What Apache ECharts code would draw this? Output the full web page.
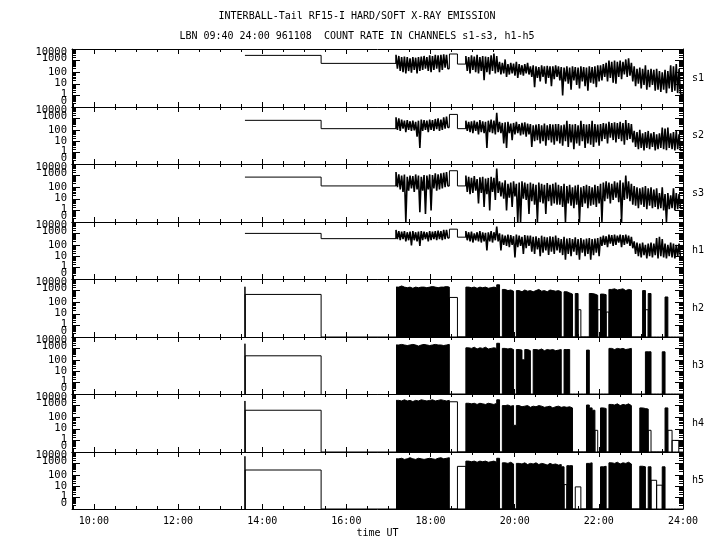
<!DOCTYPE html>
<html><head><meta charset="utf-8">
<script src="https://cdn.jsdelivr.net/npm/echarts@6/dist/echarts.min.js"></script>
<style>html,body{margin:0;padding:0;background:#fff}#c{width:720px;height:550px}</style>
</head><body><div id="c"></div>
<script>
// ===== DATA: values are log10(count rate); -1 means zero counts =====
const channels = ['s1','s2','s3','h1','h2','h3','h4','h5'];
const sparseT = [13.59, 15.40];          // sparse samples (start times)
const blockT = [18.45, 18.64, 18.84];    // two samples in the gap
const seg1Start = 17.18, seg2Start = 18.84, binH = 1/15; // 4-min bins
const xMajorTicks = [10,12,14,16,18,20,22,24];
const xTickLabels = ['10:00','12:00','14:00','16:00','18:00','20:00','22:00','24:00'];
const xMinorTicks = [9.5,10,10.5,11,11.5,12,12.5,13,13.5,14,14.5,15,15.5,16,16.5,17,17.5,18,18.5,19,19.5,20,20.5,21,21.5,22,22.5,23,23.5,24];
const yLabelText = ['10000','1000','100','10','1','0'];
const yLabelPos = [3.7,3.17,2.0,1.03,0.08,-0.5];
const yMajorTicks = [-1,0,1,2,3,4];

// ---- soft channels + h1 (line traces): sparse, block, hi/lo per bin ----
const s1Sparse = [3.45, 2.76];
const s1Block = [3.57, 2.70];
const s1Seg1Hi = [3.5,3.4,3.3,3.35,3.3,3.2,3.3,3.25,3.3,3.35,3.4,3.3,3.45,3.4,3.5,3.45,3.5,3.55,3.5];
const s1Seg1Lo = [2.3,2.1,2.0,1.9,2.1,1.95,2.2,1.9,2.1,2.2,2.3,2.1,2.0,2.2,2.3,2.0,2.2,2.4,2.3];
const s1Seg2Hi = [3.4,3.3,3.45,3.35,3.5,3.3,3.4,3.35,3.3,3.45,3.6,3.4,
  2.9,2.8,3.1,2.7,2.8,2.75,2.9,2.7,2.6,2.7,2.8,
  2.5,2.6,2.5,2.45,2.6,2.5,2.55,2.5,2.5,2.6,
  2.5,2.45,2.4,2.5,2.4,2.5,2.45,2.4,2.5,2.45,2.4,2.5,2.45,2.5,2.6,
  2.6,2.7,2.8,3.0,2.9,3.0,2.9,3.0,2.9,3.1,3.2,2.8,
  2.5,2.3,2.4,2.3,2.6,2.2,2.3,2.2,2.3,
  2.1,2.0,2.2,2.1,2.6,2.5,2.7,2.3];
const s1Seg2Lo = [2.1,1.9,2.2,2.0,1.9,2.1,1.3,2.0,1.8,2.1,1.9,2.0,
  1.8,1.9,1.6,1.8,1.9,1.7,1.5,1.8,1.7,1.9,1.8,
  1.6,0.7,1.5,1.2,1.6,1.0,1.5,0.8,1.4,1.6,
  1.3,0.0,1.2,1.0,0.5,1.3,0.9,0.6,1.2,0.8,0.4,1.1,1.0,0.7,1.2,
  1.3,1.6,1.2,1.5,1.1,1.0,1.6,1.4,1.8,1.6,1.7,1.2,
  0.8,1.0,0.6,0.9,0.5,0.7,0.9,0.4,0.5,
  0.3,0.5,0.2,0.6,0.3,0.4,0.2,0.1];

const s2Sparse = [2.83, 2.10];
const s2Block = [3.35, 2.10];
const s2Seg1Hi = [3.1,3.0,2.9,2.8,2.85,2.75,2.8,2.7,2.8,2.9,2.85,2.8,2.9,2.85,2.95,3.0,2.9,3.1,3.15];
const s2Seg1Lo = [2.0,1.9,2.1,1.8,2.0,1.9,1.95,1.4,0.4,1.9,2.0,1.8,2.0,1.9,2.05,1.9,2.0,2.1,2.2];
const s2Seg2Hi = [2.8,2.7,2.75,2.8,2.7,2.85,2.75,2.7,2.8,2.9,2.8,3.5,
  2.7,2.6,2.65,2.7,2.55,2.6,2.7,2.5,2.6,2.65,2.55,
  2.5,2.4,2.45,2.5,2.4,2.55,2.4,2.5,2.45,2.5,
  2.5,2.4,2.45,2.8,2.5,2.45,2.5,2.4,2.8,2.5,2.45,2.5,2.8,2.5,2.45,
  2.5,2.6,2.55,2.7,2.6,2.65,2.6,2.7,2.6,2.85,2.6,2.5,
  1.9,1.8,2.0,1.7,1.8,1.9,1.7,1.8,1.6,1.7,2.2,2.1,2.2,1.7,1.8,1.9,1.6];
const s2Seg2Lo = [1.9,1.8,1.7,1.9,1.6,1.8,1.7,0.4,1.8,1.7,1.6,1.8,
  1.7,0.8,0.4,1.7,1.1,1.6,1.7,1.5,1.6,1.4,1.6,
  0.5,1.0,1.1,0.8,1.0,0.6,1.1,0.9,0.7,1.0,
  0.8,0.6,1.0,0.5,0.9,0.3,0.8,0.6,1.0,0.4,0.8,0.7,0.5,0.9,0.6,
  1.0,1.2,0.8,1.3,1.1,0.9,1.2,1.0,0.7,1.1,1.2,0.9,
  0.5,0.3,0.4,0.2,0.4,0.3,0.5,0.2,0.3,0.4,0.3,0.2,0.4,0.3,0.2,0.3,0.2];

const s3Sparse = [2.87, 2.11];
const s3Block = [3.42, 2.11];
const s3Seg1Hi = [3.3,3.1,3.0,3.1,2.9,3.0,2.95,3.1,3.0,2.9,3.05,3.0,3.1,3.05,3.2,3.1,3.2,3.25,3.3];
const s3Seg1Lo = [2.0,1.8,1.6,-1,1.7,1.9,1.6,1.8,-0.15,1.7,-0.3,1.8,0.0,1.9,1.7,1.8,1.9,2.0,2.1];
const s3Seg2Hi = [3.0,2.9,2.8,2.95,2.7,2.85,2.9,2.75,2.8,2.9,2.8,3.6,
  2.5,2.4,2.6,2.3,2.4,2.5,2.3,2.4,2.5,2.4,2.3,
  2.4,2.3,2.2,2.4,2.3,2.2,2.35,2.2,2.3,2.4,
  2.2,2.1,2.3,2.1,2.2,2.0,2.15,2.2,2.0,2.1,2.2,2.1,2.0,2.2,2.1,
  2.3,2.4,2.5,2.4,2.3,2.5,2.4,2.6,2.4,3.0,2.5,2.3,
  2.1,2.0,1.9,2.0,2.1,1.9,2.0,1.8,1.9,
  1.5,2.0,1.4,1.5,1.3,1.9,1.5,1.4];
const s3Seg2Lo = [1.6,1.4,1.5,1.7,0.6,1.5,0.3,1.4,0.0,1.6,0.9,1.5,
  1.2,1.0,0.0,1.1,0.3,1.2,-1,-1,1.0,0.9,-0.3,
  0.8,0.5,-1,0.7,0.6,-0.3,0.8,0.4,0.6,0.5,
  0.5,0.3,-1,0.6,0.4,0.2,0.5,-1,0.3,0.6,0.2,0.4,0.5,0.3,0.6,
  -1,0.8,1.0,0.6,0.9,1.1,0.7,-1,0.9,1.0,0.8,0.5,
  0.4,0.2,0.5,0.3,0.1,0.4,0.2,0.3,0.1,
  0.2,0.0,-1,0.1,0.2,0.0,0.1,0.2];

const h1Sparse = [3.0, 2.54];
const h1Block = [3.37, 2.67];
const h1Seg1Hi = [3.3,3.2,3.15,3.2,3.1,3.15,3.2,3.1,3.15,3.2,3.15,3.1,3.2,3.15,3.2,3.25,3.2,3.3,3.3];
const h1Seg1Lo = [2.5,2.4,2.5,2.3,2.4,1.95,2.4,2.3,1.9,2.4,2.5,2.3,2.4,2.5,2.4,2.5,2.4,2.5,2.6];
const h1Seg2Hi = [3.2,3.1,3.15,3.0,3.1,3.2,3.1,3.05,3.1,3.2,3.1,3.6,
  3.0,2.9,2.8,2.9,2.85,2.75,2.9,2.8,2.7,2.85,2.8,
  2.8,2.7,2.75,2.6,2.8,2.7,2.65,2.75,2.7,2.8,
  2.6,2.5,2.7,2.55,2.6,2.5,2.65,2.5,2.6,2.45,2.55,2.6,2.5,2.55,2.6,
  2.7,2.8,2.75,2.9,2.85,2.9,2.8,2.9,2.85,2.9,2.8,2.7,
  2.3,2.2,2.1,2.2,2.0,2.1,2.2,2.1,2.6,2.7,2.5,2.1,2.0,2.2,2.1,2.0,2.1];
const h1Seg2Lo = [2.4,2.3,2.2,2.4,2.3,2.2,2.3,1.5,2.3,2.2,2.4,2.3,
  1.5,2.0,1.9,1.8,2.0,0.9,1.8,1.9,1.2,1.7,1.9,
  1.4,1.2,1.6,1.0,1.3,1.5,1.1,1.4,1.2,1.5,
  1.3,1.1,0.7,1.2,1.0,1.4,1.1,0.7,1.3,1.0,1.2,0.7,1.1,1.3,1.0,
  1.9,2.0,1.8,2.1,1.9,2.0,2.2,1.8,2.0,2.1,1.9,1.7,
  1.2,1.0,0.9,1.1,0.8,1.0,0.9,1.1,0.8,1.0,0.9,0.8,1.0,0.9,0.8,1.0,0.9];

// ---- hard channels h2-h5 (histogram): one value per bin + wide (open) samples [t0,t1,value] ----
const h2Seg1 = [3.3,3.4,3.3,3.25,3.3,3.2,3.3,3.25,3.3,3.3,3.25,3.3,3.35,3.3,3.25,3.3,3.3,3.35,3.3];
const h2Seg2 = [3.3,3.25,3.3,3.2,3.3,3.25,3.3,3.2,3.25,3.3,3.25, 3.5, -1, 3.1,3.0,3.05,2.95, -1,
  3.0,2.9,3.05,2.95,3.0,2.9,3.0,3.1,2.95,3.0,2.9,3.05,3.0,2.95,3.0,2.9,
  -1, 2.9,2.8,2.7, -1, 2.75, -1,-1,-1,-1, 2.75,2.7,2.6, -1, 2.7,2.65, -1,
  3.1,3.15,3.05,3.1,3.15,3.0,3.1,3.05, -1,-1,-1,-1, 3.0, -1, 2.75, -1,-1,-1,-1,-1, 2.45, -1,-1,-1,-1,-1];
const h2Open = [[13.59,13.595,3.33],[13.595,15.40,2.67],[18.45,18.64,2.41],[21.507,21.573,1.35],[21.973,22.04,1.35],[22.173,22.24,1.15],[23.107,23.173,1.35]];

const h3Seg1 = [3.3,3.35,3.3,3.25,3.3,3.35,3.3,3.2,3.3,3.35,3.3,3.25,3.3,3.35,3.3,3.3,3.25,3.3,3.35];
const h3Seg2 = [3.05,3.0,3.1,2.95,3.05,3.0,3.1,2.95,3.0,3.05,3.0, 3.45, -1, 3.0,2.95,3.0,2.9, -1,
  2.9,2.85,2.0,2.9,2.8, -1, 2.9,2.85,2.95,2.8,2.9,2.85,2.9,2.8,2.85,2.9,
  -1, 2.9,2.9, -1,-1,-1,-1,-1,-1, 2.85, -1,-1,-1,-1,-1,-1,-1,
  3.0,2.9,3.0,2.95,3.0,2.9,2.95,3.0, -1,-1,-1,-1,-1, 2.7,2.7, -1,-1,-1,-1, 2.7, -1,-1,-1,-1,-1,-1];
const h3Open = [[13.59,13.595,3.41],[13.595,15.40,2.35]];

const h4Seg1 = [3.45,3.4,3.5,3.4,3.45,3.35,3.45,3.4,3.5,3.45,3.4,3.45,3.5,3.4,3.45,3.5,3.45,3.4,3.45];
const h4Seg2 = [3.2,3.15,3.2,3.1,3.2,3.15,3.1,3.2,3.15,3.1,3.2, 3.5, -1, 3.0,3.05,2.95,3.0, 1.3,
  3.0,2.9,2.95,3.0,2.85,2.95,2.9,3.0,2.95,2.85,2.9,2.95,2.8,2.9,2.95,2.85,
  2.9,2.85,2.9,2.8, -1,-1,-1,-1,-1, 3.05, 2.8,2.6, -1,-1, 2.8,2.75, -1,
  3.1,3.05,3.15,3.0,3.1,3.05,3.15,3.0, -1,-1,-1, 2.8,2.75,2.7, -1,-1,-1,-1,-1,-1, 2.8, -1,-1,-1,-1,-1];
const h4Open = [[13.59,13.595,3.4],[13.595,15.40,2.6],[18.45,18.64,3.33],[21.907,21.973,0.87],[23.173,23.24,0.87],[23.64,23.74,0.87],[23.74,23.90,0.0]];

const h5Seg1 = [3.4,3.45,3.35,3.4,3.5,3.4,3.35,3.45,3.4,3.35,3.4,3.45,3.4,3.35,3.45,3.5,3.4,3.45,3.5];
const h5Seg2 = [3.2,3.15,3.2,3.1,3.2,3.15,3.2,3.1,3.15,3.2,3.1, 3.45, -1, 3.05,3.0,3.1,2.95, -1,
  3.0,2.95,3.05,2.9,3.0,2.95,3.05,2.9,3.0,2.95,2.85,3.0,2.9,2.95,2.85,2.9,
  2.7, -1, 2.8,2.8, -1,-1,-1,-1,-1, 3.0,3.05, -1,-1,-1, 2.7,2.75, -1,
  3.05,3.0,3.1,2.95,3.05,3.0,3.1,2.95, -1,-1,-1, 2.75,2.7, -1, 2.7, -1,-1,-1,-1, 2.7, -1,-1,-1,-1,-1,-1];
const h5Open = [[13.59,13.595,3.62],[13.595,15.40,2.42],[18.64,18.84,2.74],[21.173,21.24,1.14],[21.44,21.573,0.94],[23.24,23.373,1.52],[23.373,23.507,1.09]];

const lineChannels = {
  s1:[s1Sparse,s1Block,s1Seg1Hi,s1Seg1Lo,s1Seg2Hi,s1Seg2Lo],
  s2:[s2Sparse,s2Block,s2Seg1Hi,s2Seg1Lo,s2Seg2Hi,s2Seg2Lo],
  s3:[s3Sparse,s3Block,s3Seg1Hi,s3Seg1Lo,s3Seg2Hi,s3Seg2Lo],
  h1:[h1Sparse,h1Block,h1Seg1Hi,h1Seg1Lo,h1Seg2Hi,h1Seg2Lo]
};
const histChannels = {
  h2:[h2Seg1,h2Seg2,h2Open], h3:[h3Seg1,h3Seg2,h3Open],
  h4:[h4Seg1,h4Seg2,h4Open], h5:[h5Seg1,h5Seg2,h5Open]
};

// ===== LAYOUT / STYLE =====
const GRID_TOP = 49, PANEL_H = 57.5, GRID_LEFT = 72, GRID_RIGHT = 683;
const X_MIN = 9.48, X_MAX = 24;
const FONT = 'DejaVu Sans Mono';
const BLACK = '#000';

const yMinorTicks = [];
for (let d = -1; d <= 3; d++) for (let k = 2; k <= 9; k++) yMinorTicks.push(d + Math.log10(k));
// labels split over two axes (alternate entries) so that close labels are not dropped
const yLabPosA = yLabelPos.filter((_, i) => i % 2 === 0);
const yLabPosB = yLabelPos.filter((_, i) => i % 2 === 1);
const yLabelFmt = (v) => yLabelText[yLabelPos.indexOf(v)];

// dense zigzag (hi then lo in every bin), starting from the previous level
function zigzag(startT, prev, hi, lo, endT) {
  const pts = [[startT, prev]];
  hi.forEach((v, j) => { pts.push([startT + j*binH, v]); pts.push([startT + (j+0.5)*binH, lo[j]]); });
  pts.push([endT, lo[lo.length-1]]);
  return pts;
}
function lineParts(c) {
  const [sp, bl, hi1, lo1, hi2, lo2] = c;
  const seg1End = seg1Start + hi1.length*binH;
  return {
    thin: [
      [[sparseT[0], sp[0]], [sparseT[1], sp[1]], [seg1Start, sp[1]]],
      [[seg1End, lo1[lo1.length-1]], [blockT[0], bl[0]], [blockT[1], bl[1]], [blockT[2], bl[1]]]
    ],
    thick: [
      zigzag(seg1Start, sp[1], hi1, lo1, seg1End),
      zigzag(seg2Start, bl[1], hi2, lo2, X_MAX)
    ]
  };
}
function fillData(c) {
  const [a, b] = c;
  const pts = [];
  a.forEach((v, j) => pts.push([seg1Start + j*binH, v]));
  pts.push([seg1Start + a.length*binH, -1]);
  b.forEach((v, k) => pts.push([seg2Start + k*binH, v]));
  pts.push([X_MAX, -1]);
  return pts;
}
function openData(c) {
  const pts = [];
  c[2].forEach(([t0, t1, v]) => { pts.push([t0, -1], [t0, v], [t1, v], [t1, -1]); });
  return pts;
}

const grids = [], xAxes = [], yAxes = [], series = [], graphics = [];
const baseAxis = { type:'value', splitLine:{show:false}, axisLabel:{show:false} };
const yLabStyle = { show:true, interval:0, hideOverlap:false, formatter:yLabelFmt,
  color:BLACK, fontFamily:FONT, fontSize:10.5, margin:5, showMaxLabel:true, showMinLabel:true };
channels.forEach((name, i) => {
  const top = Math.round(GRID_TOP + PANEL_H*i);
  const bottom = Math.round(GRID_TOP + PANEL_H*(i+1));
  grids.push({ left: GRID_LEFT, width: GRID_RIGHT - GRID_LEFT, top, height: bottom - top });
  const last = i === channels.length - 1;
  const xi = xAxes.length, yi = yAxes.length;
  const lineOn = { show:true, onZero:false, lineStyle:{ color:BLACK, width:1 } };
  const lineOff = { show:false, onZero:false };
  xAxes.push(Object.assign({}, baseAxis, { gridIndex:i, min:X_MIN, max:X_MAX, position:'bottom',
    axisLine: lineOn,
    axisTick: { show:true, inside:true, length:5, customValues:xMajorTicks, lineStyle:{color:BLACK} },
    axisLabel: { show:last, customValues:xMajorTicks, interval:0, hideOverlap:false,
      formatter:(v)=>xTickLabels[xMajorTicks.indexOf(v)],
      color:BLACK, fontFamily:FONT, fontSize:10, margin:7, showMaxLabel:true, showMinLabel:true },
    name: last ? 'time UT' : '', nameLocation:'middle', nameGap:19,
    nameTextStyle:{ color:BLACK, fontFamily:FONT, fontSize:10 } }));
  xAxes.push(Object.assign({}, baseAxis, { gridIndex:i, min:X_MIN, max:X_MAX, position:'bottom', axisLine: lineOff,
    axisTick: { show:true, inside:true, length:3, customValues:xMinorTicks, lineStyle:{color:BLACK} } }));
  xAxes.push(Object.assign({}, baseAxis, { gridIndex:i, min:X_MIN, max:X_MAX, position:'top', axisLine: lineOn,
    axisTick: { show:true, inside:true, length:5, customValues:xMajorTicks, lineStyle:{color:BLACK} } }));
  xAxes.push(Object.assign({}, baseAxis, { gridIndex:i, min:X_MIN, max:X_MAX, position:'top', axisLine: lineOff,
    axisTick: { show:true, inside:true, length:3, customValues:xMinorTicks, lineStyle:{color:BLACK} } }));
  yAxes.push(Object.assign({}, baseAxis, { gridIndex:i, min:-1, max:4, position:'left', axisLine: lineOn,
    axisTick: { show:true, inside:true, length:8, customValues:yMajorTicks, lineStyle:{color:BLACK} },
    axisLabel: Object.assign({}, yLabStyle, { customValues:yLabPosA }) }));
  yAxes.push(Object.assign({}, baseAxis, { gridIndex:i, min:-1, max:4, position:'left', axisLine: lineOff,
    axisTick: { show:true, inside:true, length:4, customValues:yMinorTicks, lineStyle:{color:BLACK} },
    axisLabel: Object.assign({}, yLabStyle, { customValues:yLabPosB }) }));
  yAxes.push(Object.assign({}, baseAxis, { gridIndex:i, min:-1, max:4, position:'right', axisLine: lineOn,
    axisTick: { show:true, inside:true, length:8, customValues:yMajorTicks, lineStyle:{color:BLACK} } }));
  yAxes.push(Object.assign({}, baseAxis, { gridIndex:i, min:-1, max:4, position:'right', axisLine: lineOff,
    axisTick: { show:true, inside:true, length:4, customValues:yMinorTicks, lineStyle:{color:BLACK} } }));

  const common = { type:'line', xAxisIndex:xi, yAxisIndex:yi, symbol:'none', silent:true,
    animation:false, step:'end', lineStyle:{ color:BLACK, width:1 } };
  if (lineChannels[name]) {
    const parts = lineParts(lineChannels[name]);
    parts.thin.forEach(d => series.push(Object.assign({}, common, { data:d })));
    parts.thick.forEach(d => series.push(Object.assign({}, common, { data:d,
      lineStyle:{ color:BLACK, width:1.6 } })));
  } else {
    const c = histChannels[name];
    series.push(Object.assign({}, common, { data: fillData(c),
      areaStyle:{ color:BLACK, opacity:1, origin:'start' } }));
    series.push(Object.assign({}, common, { step:false, data: openData(c) }));
  }
  graphics.push({ type:'text', x: 692, y: (top + bottom) / 2,
    style:{ text:name, font:'10px "' + FONT + '"', fill:BLACK, textAlign:'left', textVerticalAlign:'middle' } });
});
graphics.push({ type:'text', x:357, y:16, style:{ text:'INTERBALL-Tail RF15-I HARD/SOFT X-RAY EMISSION',
  font:'10px "' + FONT + '"', fill:BLACK, textAlign:'center', textVerticalAlign:'middle' } });
graphics.push({ type:'text', x:357, y:36, style:{ text:'LBN 09:40 24:00 961108  COUNT RATE IN CHANNELS s1-s3, h1-h5',
  font:'10px "' + FONT + '"', fill:BLACK, textAlign:'center', textVerticalAlign:'middle' } });

const chart = echarts.init(document.getElementById('c'), null, { renderer:'canvas' });
chart.setOption({
  backgroundColor:'#fff', animation:false,
  textStyle:{ fontFamily:FONT, color:BLACK },
  grid: grids, xAxis: xAxes, yAxis: yAxes, series, graphic: graphics
});
</script></body></html>
